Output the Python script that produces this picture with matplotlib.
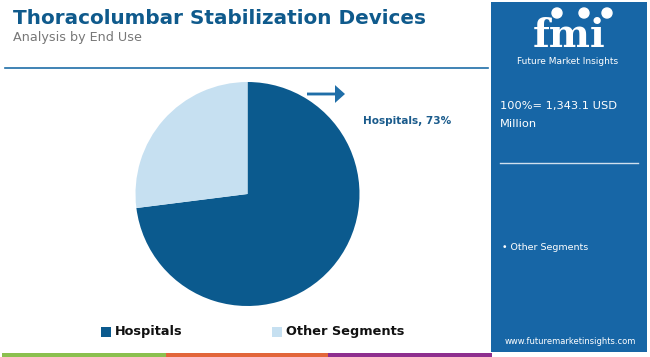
import matplotlib
matplotlib.use("Agg")
import matplotlib.pyplot as plt
from matplotlib.patches import Rectangle, FancyArrow, Ellipse

# data
segments = ["Hospitals", "Other Segments"]
shares = [73, 27]
colors = ["#0b5a8e", "#c6e0f1"]
total_label = "100%= 1,343.1 USD\nMillion"
title = "Thoracolumbar Stabilization Devices"
subtitle = "Analysis by End Use"

W, H = 650, 357
fig = plt.figure(figsize=(W / 100, H / 100), dpi=100)
fig.patch.set_facecolor("white")

def fx(px):
    return px / W

def fy(py):
    return 1 - py / H

# header
fig.text(fx(13), fy(18), title, fontsize=14.4, fontweight="bold", color="#0f5a8c",
         family="DejaVu Sans", va="center", ha="left")
fig.text(fx(13), fy(37), subtitle, fontsize=9.2, color="#777777",
         family="DejaVu Sans", va="center", ha="left")
fig.add_artist(plt.Line2D([fx(5), fx(488)], [fy(68), fy(68)], color="#1f6ea8", lw=1.2))

# bottom color strip
for x0, x1, c in [(2, 166, "#8bc04f"), (166, 328, "#e2663a"), (328, 492, "#8e2e8e")]:
    fig.add_artist(Rectangle((fx(x0), 0), fx(x1 - x0), 4 / H, color=c, lw=0))

# pie
r = 112
cx, cy = 247.5, 194
ax = fig.add_axes([fx(cx - r), fy(cy + r), fx(2 * r), 2 * r / H])
ax.pie(shares, colors=colors, startangle=90, counterclock=False,
       wedgeprops=dict(linewidth=0))
ax.set_xlim(-1, 1)
ax.set_ylim(-1, 1)
ax.axis("off")

# annotation
fig.add_artist(FancyArrow(fx(307), fy(94), fx(28), 0, width=0.008, head_width=0.05,
                          head_length=fx(10), color="#1f6ea8", lw=0,
                          length_includes_head=False, transform=fig.transFigure))
fig.text(fx(363), fy(121), f"{segments[0]}, {shares[0]}%", fontsize=7.6, fontweight="bold",
         color="#1a5b8c", family="DejaVu Sans", va="center", ha="left")

# legend
for sx, name, c in [(101, segments[0], colors[0]), (272, segments[1], colors[1])]:
    fig.add_artist(Rectangle((fx(sx), fy(337)), fx(10), 10 / H, color=c, lw=0))
    fig.text(fx(sx + 14), fy(332), name, fontsize=9.3, fontweight="bold", color="#111111",
             family="DejaVu Sans", va="center", ha="left")

# right panel
panel = "#1766a6"
fig.add_artist(Rectangle((fx(491), fy(352)), fx(156), 350 / H, color=panel, lw=0))
fig.text(fx(569), fy(47), "fmi", fontsize=28, fontweight="bold", color="white",
         family="DejaVu Serif", va="baseline", ha="center")
for yy in range(24, 48, 4):
    fig.add_artist(plt.Line2D([fx(520), fx(620)], [fy(yy), fy(yy)], color=panel, lw=0.8))
for ccx in [557, 584, 607]:
    fig.add_artist(Ellipse((fx(ccx), fy(13)), fx(10), 10 / H, color="white"))
fig.text(fx(568), fy(62), "Future Market Insights", fontsize=6.5, color="white",
         family="DejaVu Sans", va="center", ha="center")
fig.text(fx(500), fy(115), total_label, fontsize=8.2, color="white", family="DejaVu Sans",
         va="center", ha="left", linespacing=1.9)
fig.add_artist(plt.Line2D([fx(500), fx(638)], [fy(163), fy(163)], color="#d0e0ee", lw=1))
fig.text(fx(502), fy(248), "• " + segments[1], fontsize=6.8, color="white",
         family="DejaVu Sans", va="center", ha="left")
fig.text(fx(570), fy(341), "www.futuremarketinsights.com", fontsize=6, color="white",
         family="DejaVu Sans", va="center", ha="center")

fig.savefig("out.png", dpi=100, facecolor="white")
